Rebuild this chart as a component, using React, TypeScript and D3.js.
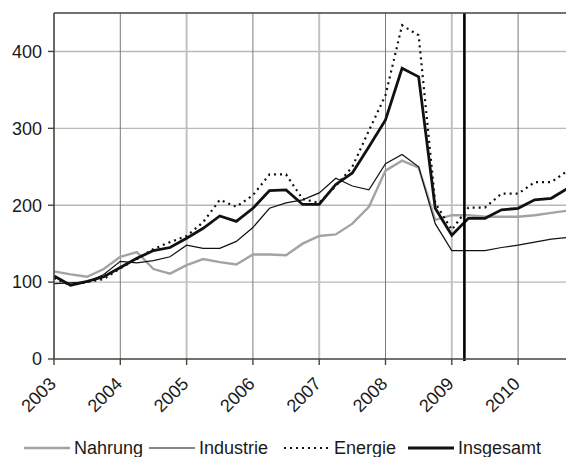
import React, { useEffect, useRef } from 'react';
import * as d3 from 'd3';

// quarterly values, 2003 Q1 .. 2010 Q4
const years = [2003, 2004, 2005, 2006, 2007, 2008, 2009, 2010];
const yTicks = [0, 100, 200, 300, 400];

const nahrung = [114, 110, 107, 117, 133, 139, 117, 111, 122, 130, 126, 123, 136, 136, 135, 150,
  160, 162, 176, 198, 245, 258, 249, 181, 187, 187, 185, 185, 185, 187, 190, 193];
const industrie = [98, 99, 100, 110, 127, 125, 128, 133, 148, 144, 144, 153, 171, 196, 203, 207,
  216, 235, 225, 220, 254, 266, 250, 176, 141, 141, 141, 145, 148, 152, 156, 158];
const energie = [105, 96, 100, 104, 118, 130, 143, 152, 160, 178, 207, 198, 213, 240, 240, 208,
  203, 225, 250, 297, 343, 434, 421, 203, 168, 197, 197, 215, 215, 230, 230, 245];
const insgesamt = [108, 96, 101, 107, 119, 131, 141, 145, 157, 170, 186, 179, 196, 219, 220, 201,
  201, 227, 242, 276, 311, 378, 367, 196, 161, 183, 183, 194, 196, 207, 209, 222];

const markerDate = 2009.19;

const seriesNames = ['Nahrung', 'Industrie', 'Energie', 'Insgesamt'];
const seriesValues = [nahrung, industrie, energie, insgesamt];

const styles = [
  { color: '#a3a3a3', width: 2.4, dash: null },
  { color: '#111', width: 1.2, dash: null },
  { color: '#111', width: 2.2, dash: '2,4' },
  { color: '#111', width: 2.8, dash: null },
];

const FONT = '"Liberation Sans", Arial, Helvetica, sans-serif';

const Chart = () => {
  const ref = useRef(null);

  useEffect(() => {
    const svg = d3.select(ref.current);
    svg.selectAll('*').remove();

    const width = 566;
    const left = 54, top = 13, bottom = 359;
    const yearW = 66.3;

    const x = d3.scaleLinear().domain([2003, 2011]).range([left, left + 8 * yearW]);
    const y = d3.scaleLinear().domain([0, 450]).range([bottom, top]);

    const dates = nahrung.map((_, i) => 2003 + i / 4);

    // grid
    svg.append('g').selectAll('line').data(yTicks.filter(d => d > 0)).enter().append('line')
      .attr('x1', left).attr('x2', width)
      .attr('y1', d => y(d)).attr('y2', d => y(d))
      .attr('stroke', '#b8b8b8').attr('stroke-width', 1.4);

    svg.append('g').selectAll('line').data(years.slice(1)).enter().append('line')
      .attr('x1', d => x(d)).attr('x2', d => x(d))
      .attr('y1', top).attr('y2', bottom)
      .attr('stroke', d => (d % 2 === 0 ? '#7a7a7a' : '#c2c2c2'))
      .attr('stroke-width', d => (d % 2 === 0 ? 1 : 2));

    // series
    const line = d3.line<number>().x((_, i) => x(dates[i])).y(d => y(d));
    seriesValues.forEach((vals, i) => {
      const s = styles[i];
      const p = svg.append('path')
        .attr('d', line(vals))
        .attr('fill', 'none')
        .attr('stroke', s.color)
        .attr('stroke-width', s.width)
        .attr('stroke-linejoin', 'miter');
      if (s.dash) p.attr('stroke-dasharray', s.dash);
    });

    // marker
    svg.append('line')
      .attr('x1', x(markerDate)).attr('x2', x(markerDate))
      .attr('y1', top).attr('y2', bottom + 2)
      .attr('stroke', '#000').attr('stroke-width', 2.6);

    // axes frame
    const axisColor = '#45453a';
    svg.append('line').attr('x1', left).attr('x2', width).attr('y1', top).attr('y2', top)
      .attr('stroke', axisColor).attr('stroke-width', 1.6);
    svg.append('line').attr('x1', left).attr('x2', width).attr('y1', bottom).attr('y2', bottom)
      .attr('stroke', axisColor).attr('stroke-width', 1.6);
    svg.append('line').attr('x1', left).attr('x2', left).attr('y1', top).attr('y2', bottom)
      .attr('stroke', axisColor).attr('stroke-width', 1.6);

    // y ticks
    const yg = svg.append('g');
    yg.selectAll('line').data(yTicks).enter().append('line')
      .attr('x1', left - 6).attr('x2', left)
      .attr('y1', d => y(d)).attr('y2', d => y(d))
      .attr('stroke', axisColor).attr('stroke-width', 1.4);
    yg.selectAll('text').data(yTicks).enter().append('text')
      .attr('x', 42).attr('y', d => y(d)).attr('dy', '0.35em')
      .attr('text-anchor', 'end')
      .style('font-family', FONT).style('font-size', '18px').attr('fill', '#1a1a1a')
      .text(d => d);

    // x ticks
    const xg = svg.append('g');
    xg.selectAll('line').data(years).enter().append('line')
      .attr('x1', d => x(d)).attr('x2', d => x(d))
      .attr('y1', bottom).attr('y2', bottom + 6)
      .attr('stroke', axisColor).attr('stroke-width', 1.4);
    xg.selectAll('text').data(years).enter().append('text')
      .attr('transform', d => `translate(${x(d) + 3},${bottom + 26}) rotate(-45)`)
      .attr('text-anchor', 'end')
      .style('font-family', FONT).style('font-size', '18px').attr('fill', '#1a1a1a')
      .text(d => d);

    // legend
    const legendX = [24, 149, 284, 408];
    const ly = 448;
    const lg = svg.append('g');
    seriesNames.forEach((name, i) => {
      const s = styles[i];
      const l = lg.append('line')
        .attr('x1', legendX[i]).attr('x2', legendX[i] + 46)
        .attr('y1', ly).attr('y2', ly)
        .attr('stroke', s.color).attr('stroke-width', s.width);
      if (s.dash) l.attr('stroke-dasharray', s.dash);
      lg.append('text')
        .attr('x', legendX[i] + 50).attr('y', ly + 6)
        .style('font-family', FONT).style('font-size', '18px').attr('fill', '#1a1a1a')
        .text(name);
    });
  }, []);

  return (
    <svg ref={ref} width={566} height={457}
      style={{ position: 'absolute', left: 0, top: 0, background: '#fff' }} />
  );
};

export default function App() {
  return <Chart />;
}
